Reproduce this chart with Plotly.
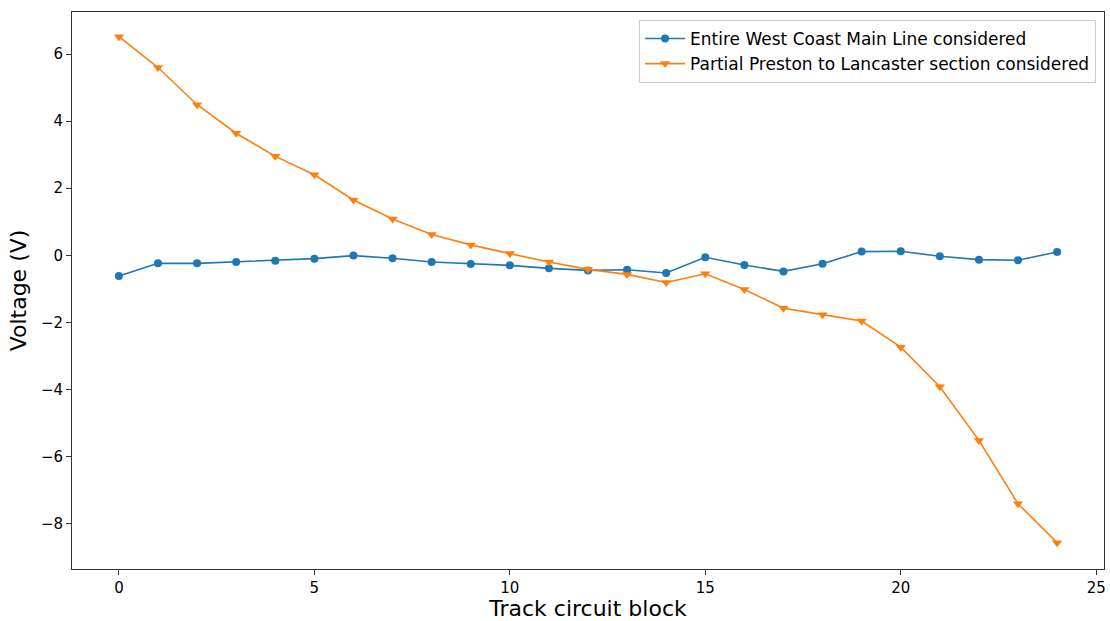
import plotly.graph_objects as go

blocks = list(range(25))
entire_wcml = [-0.62, -0.24, -0.24, -0.20, -0.16, -0.10, -0.01, -0.09, -0.20, -0.26,
               -0.30, -0.39, -0.45, -0.43, -0.53, -0.06, -0.29, -0.48, -0.25, 0.11,
               0.12, -0.03, -0.13, -0.15, 0.10]
partial_preston = [6.52, 5.60, 4.49, 3.64, 2.95, 2.40, 1.65, 1.08, 0.62, 0.31,
                   0.05, -0.20, -0.42, -0.57, -0.81, -0.55, -1.02, -1.58, -1.77, -1.96,
                   -2.74, -3.92, -5.52, -7.41, -8.57]
x_ticks = [0, 5, 10, 15, 20, 25]
y_ticks = [6, 4, 2, 0, -2, -4, -6, -8]

fig = go.Figure()
fig.add_trace(go.Scatter(x=blocks, y=entire_wcml, mode="lines+markers",
                         name="Entire West Coast Main Line considered",
                         line=dict(color="#1f77b4", width=1.6),
                         marker=dict(symbol="circle", size=8, color="#1f77b4")))
fig.add_trace(go.Scatter(x=blocks, y=partial_preston, mode="lines+markers",
                         name="Partial Preston to Lancaster section considered",
                         line=dict(color="#ff7f0e", width=1.6),
                         marker=dict(symbol="triangle-down", size=9, color="#ff7f0e")))

axis_common = dict(showgrid=False, zeroline=False, showline=True, linecolor="#333",
                   linewidth=1, mirror=True, ticks="outside", ticklen=5, tickwidth=1,
                   tickcolor="#333", tickfont=dict(family="DejaVu Sans", size=15, color="#000"))

fig.update_layout(
    width=1110, height=621,
    margin=dict(l=72, r=4, t=12, b=49),
    plot_bgcolor="white", paper_bgcolor="white",
    font=dict(family="DejaVu Sans", color="#000"),
    xaxis=dict(range=[-1.2, 25.2], tickvals=x_ticks,
               title=dict(text="Track circuit block", font=dict(size=22), standoff=5),
               **axis_common),
    yaxis=dict(range=[-9.355, 7.255], tickvals=y_ticks,
               title=dict(text="Voltage (V)", font=dict(size=22), standoff=8),
               **axis_common),
    legend=dict(x=0.9923, y=0.9857, xanchor="right", yanchor="top",
                bgcolor="rgba(255,255,255,0.8)", bordercolor="#ccc", borderwidth=1,
                font=dict(size=17), tracegroupgap=0, itemwidth=40),
    showlegend=True,
)

fig.write_html("out.html")
